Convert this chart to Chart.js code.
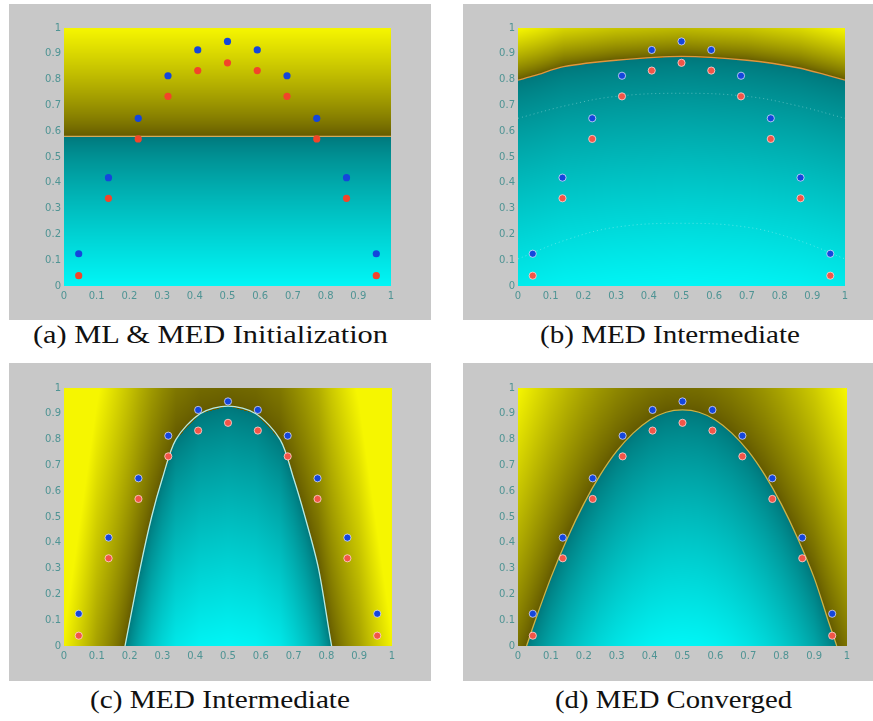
<!DOCTYPE html>
<html>
<head>
<meta charset="utf-8">
<script src="https://cdn.jsdelivr.net/npm/chart.js@4"></script>
<style>
  body { margin: 0; width: 873px; height: 721px; background: #fff; position: relative; overflow: hidden; }
  .panel { position: absolute; background: #c8c8c8; }
  .cap { position: absolute; font-family: "Liberation Serif", "Times New Roman", serif; font-size: 25px; line-height: 25px; color: #111; white-space: nowrap; transform-origin: left top; }
</style>
</head>
<body>
<div class="panel" id="pa"><canvas id="ca"></canvas></div>
<div class="panel" id="pb"><canvas id="cb"></canvas></div>
<div class="panel" id="pc"><canvas id="cc"></canvas></div>
<div class="panel" id="pd"><canvas id="cd"></canvas></div>
<div class="cap" id="ta">(a) ML &amp; MED Initialization</div>
<div class="cap" id="tb">(b) MED Intermediate</div>
<div class="cap" id="tc">(c) MED Intermediate</div>
<div class="cap" id="td">(d) MED Converged</div>
<script>
'use strict'

// tick labels (both axes)
var tickLabels = ['0', '0.1', '0.2', '0.3', '0.4', '0.5', '0.6', '0.7', '0.8', '0.9', '1'];

// the two classes of points (same x positions)
var pointX = [0.045, 0.136, 0.227, 0.318, 0.409, 0.5, 0.591, 0.682, 0.773, 0.864, 0.955];
var blueY  = [0.125, 0.42, 0.65, 0.815, 0.915, 0.948, 0.915, 0.815, 0.65, 0.42, 0.125];
var redY   = [0.04, 0.34, 0.57, 0.735, 0.835, 0.865, 0.835, 0.735, 0.57, 0.34, 0.04];

// decision boundaries (parts below 0 are clipped away)
var boundaryA = [[0, 0.58], [1, 0.58]];
var boundaryB = [[0, 0.798], [0.05, 0.815], [0.14, 0.85], [0.3, 0.875], [0.5, 0.89],
                 [0.7, 0.875], [0.86, 0.845], [0.95, 0.815], [1, 0.798]];
var boundaryC = [[0, -1.45], [0.1, -0.56], [0.186, 0], [0.232, 0.3], [0.267, 0.5], [0.3, 0.65], [0.341, 0.8],
                 [0.415, 0.9], [0.5, 0.93], [0.585, 0.9], [0.659, 0.8], [0.7, 0.65], [0.735, 0.5],
                 [0.776, 0.3], [0.816, 0], [0.9, -0.56], [1, -1.45]];
var boundaryD = [[0.026, 0], [0.05, 0.09], [0.1, 0.265], [0.15, 0.418], [0.2, 0.551], [0.25, 0.663],
                 [0.3, 0.755], [0.35, 0.825], [0.4, 0.876], [0.45, 0.906], [0.5, 0.915], [0.55, 0.906],
                 [0.6, 0.876], [0.65, 0.825], [0.7, 0.755], [0.75, 0.663], [0.8, 0.551], [0.85, 0.418],
                 [0.9, 0.265], [0.945, 0.09], [0.969, 0]];

// dotted contour levels in panel (b)
var contourB1 = [[0, 0.65], [0.15, 0.7], [0.3, 0.735], [0.5, 0.747], [0.7, 0.735], [0.85, 0.7], [1, 0.65]];
var contourB2 = [[0, 0.105], [0.15, 0.18], [0.3, 0.228], [0.5, 0.243], [0.7, 0.228], [0.85, 0.18], [1, 0.105]];

function toXY(arr) { return arr.map(function (p) { return { x: p[0], y: p[1] }; }); }
function pts(ys) { return pointX.map(function (x, i) { return { x: x, y: ys[i] }; }); }

// boundary height at x (linear, extrapolated past the ends)
function boundaryAt(b, x) {
    var i = 0;
    if (x <= b[0][0]) i = 0;
    else if (x >= b[b.length - 1][0]) i = b.length - 2;
    else { while (i < b.length - 2 && x > b[i + 1][0]) i++; }
    var p = b[i], q = b[i + 1];
    return p[1] + (q[1] - p[1]) * (x - p[0]) / (q[0] - p[0]);
}

var yellowDark = [98, 88, 0], yellowLight = [246, 246, 0];
var cyanDark = [0, 118, 122], cyanLight = [0, 246, 246];

var fieldPlugin = {
    id: 'field',
    beforeDatasetsDraw: function (chart) {
        var o = chart.options.plugins.field;
        var a = chart.chartArea, xs = chart.scales.x, ys = chart.scales.y;
        var w = Math.round(a.right - a.left), h = Math.round(a.bottom - a.top);
        if (!chart._fieldImg) {
            var off = document.createElement('canvas');
            off.width = w; off.height = h;
            var octx = off.getContext('2d');
            var img = octx.createImageData(w, h);
            for (var px = 0; px < w; px++) {
                var xv = xs.getValueForPixel(a.left + px + 0.5);
                var bv = boundaryAt(o.boundary, xv);
                for (var py = 0; py < h; py++) {
                    var yv = ys.getValueForPixel(a.top + py + 0.5);
                    var f = yv - bv, c0, c1, t;
                    if (f >= 0) { t = Math.pow(Math.min(1, f / o.yellowMax), o.gamma); c0 = yellowDark; c1 = yellowLight; }
                    else { t = Math.pow(Math.min(1, -f / o.cyanMax), o.gamma); c0 = cyanDark; c1 = cyanLight; }
                    var k = (py * w + px) * 4;
                    img.data[k] = c0[0] + (c1[0] - c0[0]) * t;
                    img.data[k + 1] = c0[1] + (c1[1] - c0[1]) * t;
                    img.data[k + 2] = c0[2] + (c1[2] - c0[2]) * t;
                    img.data[k + 3] = 255;
                }
            }
            octx.putImageData(img, 0, 0);
            chart._fieldImg = off;
        }
        chart.ctx.drawImage(chart._fieldImg, a.left, a.top);
    }
};

var panels = [
    { canvas: 'ca', box: 'pa', left: 9, top: 4, w: 422, h: 316, pad: [55, 40, 24, 34],
      boundary: boundaryA, lineColor: '#d2aa5a', yellowMax: 0.42, cyanMax: 0.58, ring: false },
    { canvas: 'cb', box: 'pb', left: 463, top: 4, w: 410, h: 316, pad: [55, 28, 24, 34],
      boundary: boundaryB, lineColor: '#e0963c', yellowMax: 0.2, cyanMax: 0.89, ring: true,
      contours: [contourB1, contourB2] },
    { canvas: 'cc', box: 'pc', left: 9, top: 363, w: 422, h: 318, pad: [55, 39, 25, 35],
      boundary: boundaryC, lineColor: '#b8ece4', yellowMax: 1.5, cyanMax: 0.93, ring: true },
    { canvas: 'cd', box: 'pd', left: 463, top: 363, w: 410, h: 318, pad: [55, 26, 25, 35],
      boundary: boundaryD, lineColor: '#ccb448', yellowMax: 1.1, cyanMax: 0.915, ring: true }
];

var tickFont = { family: 'DejaVu Sans', size: 10 };
var tickColor = '#4f9494';

panels.forEach(function (p) {
    var box = document.getElementById(p.box);
    box.style.left = p.left + 'px'; box.style.top = p.top + 'px';
    box.style.width = p.w + 'px'; box.style.height = p.h + 'px';
    var cv = document.getElementById(p.canvas);
    cv.width = p.w; cv.height = p.h;

    var datasets = [
        { data: pts(blueY), backgroundColor: '#1446dc', pointRadius: 3.6,
          borderColor: p.ring ? 'rgba(225,225,255,0.75)' : '#1446dc', borderWidth: p.ring ? 1 : 0 },
        { data: pts(redY), backgroundColor: p.ring ? '#f25548' : '#f2442a', pointRadius: 3.6,
          borderColor: p.ring ? 'rgba(255,215,215,0.8)' : '#f2442a', borderWidth: p.ring ? 1 : 0 },
        { data: toXY(p.boundary), showLine: true, borderColor: p.lineColor, borderWidth: 1.3,
          pointRadius: 0, tension: 0.3, fill: false }
    ];
    (p.contours || []).forEach(function (c) {
        datasets.push({ data: toXY(c), showLine: true, borderColor: 'rgba(235,255,255,0.35)', borderWidth: 1,
            borderDash: [1, 3], pointRadius: 0, tension: 0.4, fill: false });
    });

    new Chart(cv.getContext('2d'), {
        type: 'scatter',
        data: { datasets: datasets },
        plugins: [fieldPlugin],
        options: {
            responsive: false,
            animation: false,
            events: [],
            layout: { padding: { left: 0, right: p.pad[1], top: p.pad[2], bottom: 0 } },
            plugins: {
                legend: { display: false },
                tooltip: { enabled: false },
                field: { boundary: p.boundary, yellowMax: p.yellowMax, cyanMax: p.cyanMax, gamma: 0.8 }
            },
            scales: {
                x: {
                    type: 'linear', min: 0, max: 1,
                    grid: { display: false, drawTicks: false }, border: { display: false },
                    afterFit: function (s) { s.height = p.pad[3]; },
                    ticks: { stepSize: 0.1, padding: 4, font: tickFont, color: tickColor, maxRotation: 0,
                        autoSkip: false, callback: function (v, i) { return tickLabels[i]; } }
                },
                y: {
                    type: 'linear', min: 0, max: 1,
                    grid: { display: false, drawTicks: false }, border: { display: false },
                    afterFit: function (s) { s.width = p.pad[0]; },
                    ticks: { stepSize: 0.1, padding: 3, font: tickFont, color: tickColor,
                        autoSkip: false, callback: function (v, i) { return tickLabels[i]; } }
                }
            }
        }
    });
});

// captions
var caps = [['ta', 33, 322, 355], ['tb', 540, 322, 260], ['tc', 90, 687, 260], ['td', 555, 687, 237]];
caps.forEach(function (c) {
    var el = document.getElementById(c[0]);
    el.style.left = c[1] + 'px'; el.style.top = c[2] + 'px';
    var wNow = el.getBoundingClientRect().width;
    el.style.transform = 'scaleX(' + (c[3] / wNow) + ')';
});
</script>
</body>
</html>
